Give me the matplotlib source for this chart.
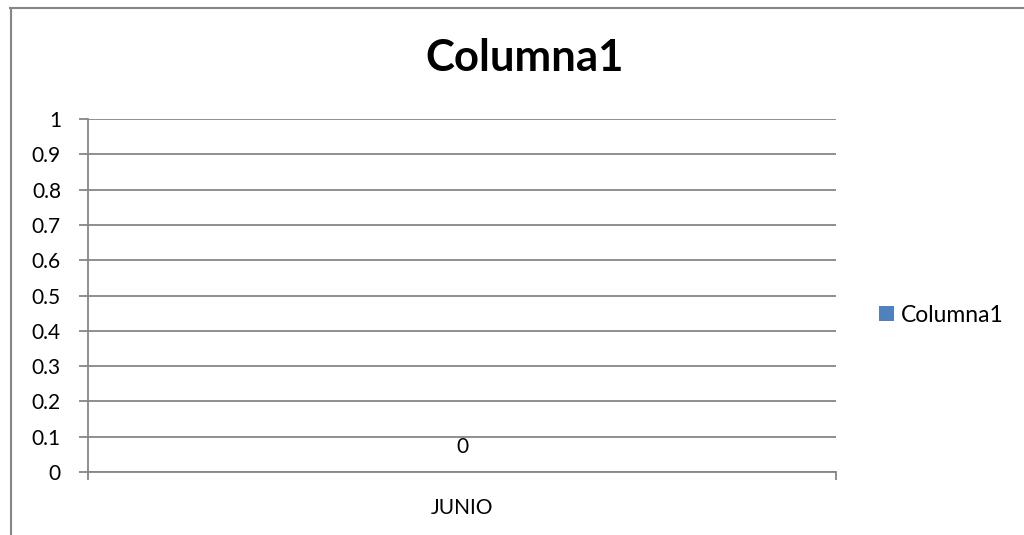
import matplotlib
matplotlib.use("Agg")
import matplotlib.pyplot as plt
from matplotlib.lines import Line2D

categories = ["JUNIO"]
values = [0]
series_name = "Columna1"
title = "Columna1"
yticks = [0, 0.1, 0.2, 0.3, 0.4, 0.5, 0.6, 0.7, 0.8, 0.9, 1]
ytick_labels = ["0", "0.1", "0.2", "0.3", "0.4", "0.5", "0.6", "0.7", "0.8", "0.9", "1"]

plt.rcParams['font.family'] = ['Lato', 'DejaVu Sans']

W, H = 1024, 535
fig = plt.figure(figsize=(W / 100, H / 100), dpi=100)
ax = fig.add_axes([88 / W, 1 - 472 / H, (836 - 88) / W, (472 - 119) / H])

grey = "#868686"
fs = 15
x = list(range(len(categories)))
bars = ax.bar(x, values, width=0.5, color="#4F81BD", label=series_name)
ax.bar_label(bars, labels=[str(v) for v in values], padding=11, fontsize=fs, color="black")

ax.set_xlim(-0.5, len(categories) - 0.5)
ax.set_ylim(0, 1)
ax.set_yticks(yticks)
ax.set_yticklabels(ytick_labels, fontsize=fs)
ax.yaxis.grid(True, color=grey, linewidth=1.3)
ax.set_axisbelow(True)

ax.set_xticks([i - 0.5 for i in range(len(categories) + 1)])
ax.set_xticklabels([])
ax.set_xticks(x, minor=True)
ax.set_xticklabels(categories, minor=True, fontsize=fs)
ax.tick_params(axis='x', which='major', length=6, width=1.3, color=grey, direction='out')
ax.tick_params(axis='x', which='minor', length=0, pad=19)
ax.tick_params(axis='y', length=6.5, width=1.3, color=grey, pad=13)

for s in ['top', 'right']:
    ax.spines[s].set_visible(False)
for s in ['left', 'bottom']:
    ax.spines[s].set_color(grey)
    ax.spines[s].set_linewidth(1.3)

fig.text(525 / W, 1 - 58 / H, title, ha='center', va='center', fontsize=31.5, fontweight='bold')

leg = fig.legend(handles=[bars], labels=[series_name], loc='center left',
                 bbox_to_anchor=(879 / W, 1 - 315 / H), frameon=False, fontsize=16.5,
                 handlelength=0.65, handleheight=0.65, handletextpad=0.3, borderpad=0,
                 borderaxespad=0)

# outer chart border (top and left visible)
fig.add_artist(Line2D([10 / W, 1], [1 - 7.5 / H, 1 - 7.5 / H], color=grey, linewidth=1.5, transform=fig.transFigure))
fig.add_artist(Line2D([10.5 / W, 10.5 / W], [0, 1 - 7.5 / H], color=grey, linewidth=1.5, transform=fig.transFigure))

fig.savefig("out.png", dpi=100)
